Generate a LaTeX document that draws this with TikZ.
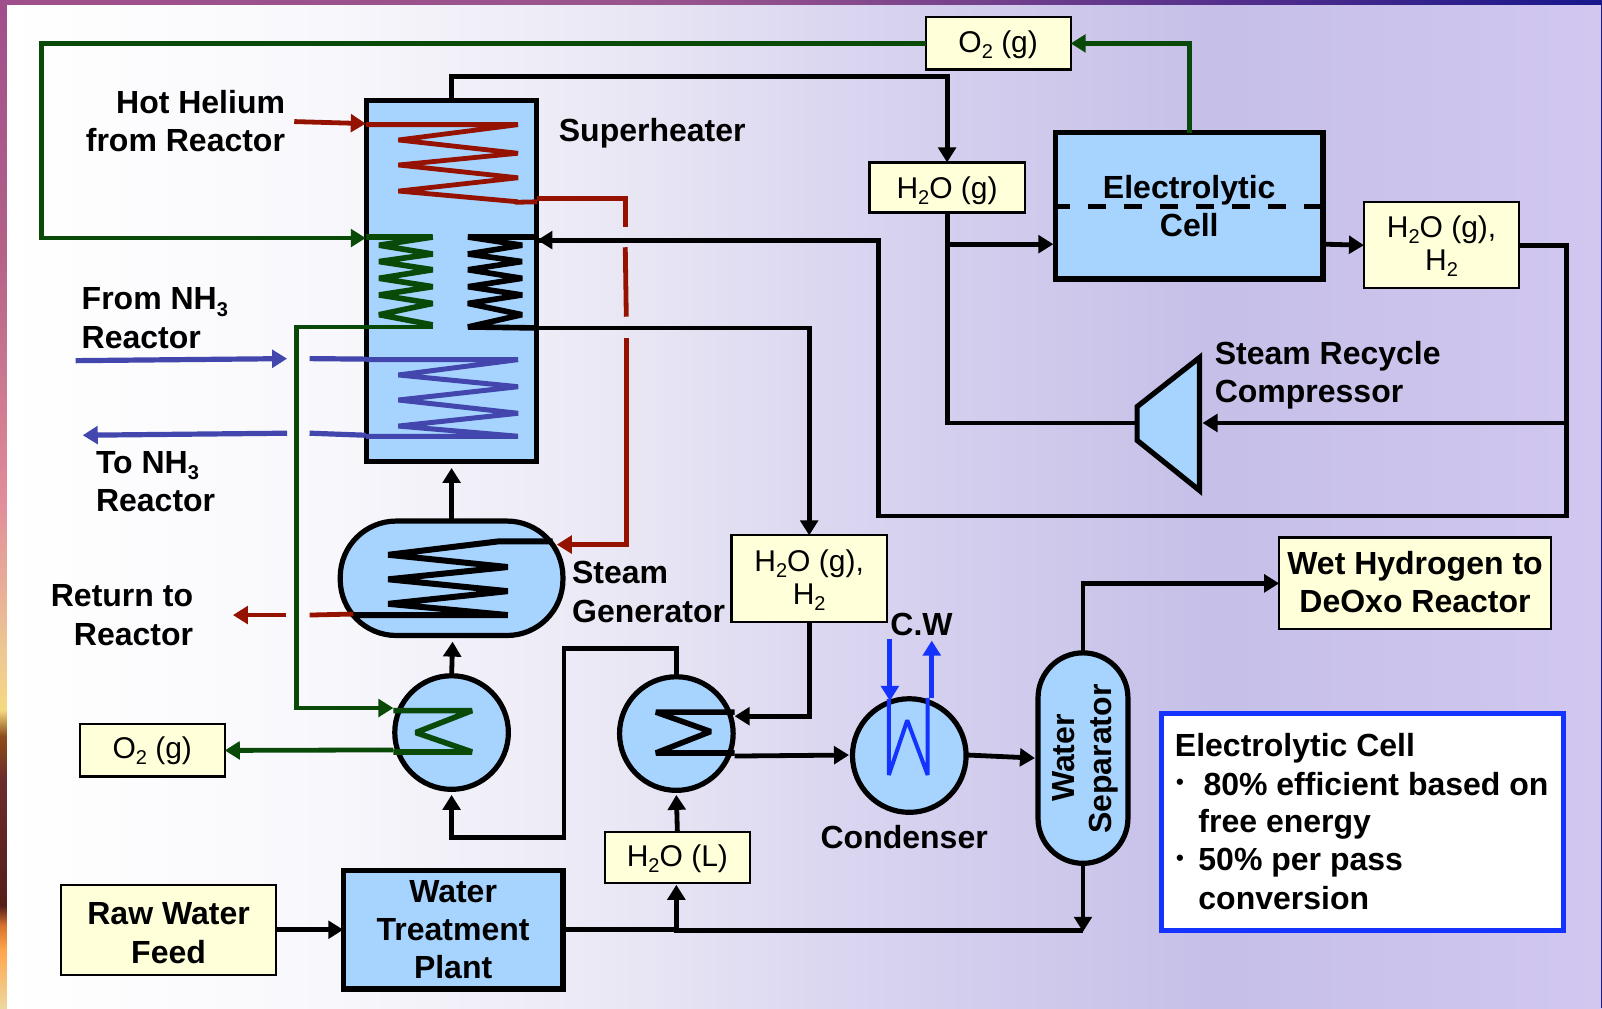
\documentclass[tikz,border=0pt]{standalone}
\usepackage{fontspec}
\setmainfont{Liberation Sans}
\usetikzlibrary{arrows.meta,calc}
\definecolor{unitblue}{HTML}{A6D4FF}
\definecolor{creamfill}{HTML}{FFFFDA}
\definecolor{dkgreen}{HTML}{0A4A08}
\definecolor{dkred}{HTML}{951200}
\definecolor{indigo}{HTML}{4347AD}
\definecolor{brightblue}{HTML}{1433FF}
\definecolor{navyedge}{HTML}{1F1A8C}
\pgfdeclarehorizontalshading{bgshade}{100bp}{rgb(0bp)=(1,1,1); rgb(25bp)=(1,1,1); rgb(34.5bp)=(.975,.975,.99); rgb(44bp)=(.92,.91,.96); rgb(52bp)=(.85,.83,.94); rgb(63bp)=(.775,.75,.91); rgb(75bp)=(.82,.78,.94); rgb(100bp)=(.82,.78,.94)}
\pgfdeclarehorizontalshading{topshade}{100bp}{rgb(0bp)=(.62,.31,.55); rgb(25bp)=(.62,.31,.55); rgb(45bp)=(.60,.33,.55); rgb(50bp)=(.55,.30,.55); rgb(65bp)=(.30,.17,.55); rgb(75bp)=(.09,.09,.55); rgb(100bp)=(.09,.09,.55)}
\pgfdeclareverticalshading{leftshade}{100bp}{rgb(0bp)=(.92,.85,.62); rgb(25bp)=(.92,.85,.62); rgb(27.9bp)=(1,.65,.30); rgb(29.1bp)=(.85,.45,.18); rgb(30.1bp)=(.33,.12,.10); rgb(36.3bp)=(.42,.17,.17); rgb(38.5bp)=(.55,.30,.10); rgb(39.8bp)=(.96,.85,.50); rgb(42.76bp)=(.93,.78,.58); rgb(50.2bp)=(.88,.55,.60); rgb(62.6bp)=(.70,.38,.53); rgb(75bp)=(.62,.31,.55); rgb(100bp)=(.62,.31,.55)}
\newcommand\sbs[1]{\smash{\raisebox{-3.2pt}{\fontsize{10}{10}\selectfont #1}}}
\newcommand\rbox[7]{%
  \pgfmathsetmacro\cxx{(#3+#5)/2}\pgfmathsetmacro\cyy{(#4+#6)/2}%
  \pgfmathsetmacro\wdd{(#5-#3)*0.5108}\pgfmathsetmacro\htt{(#6-#4)*0.5108}%
  \node[#1,minimum width=\wdd pt,minimum height=\htt pt] (#2) at (\cxx,\cyy) {#7};}
\tikzset{
  tipa/.style={-{Triangle[length=7.5pt,width=8.8pt]}},
  boxbase/.style={draw,align=center,inner sep=0pt,outer sep=0pt},
  cream/.style={boxbase,fill=creamfill,line width=1.1pt,font=\fontsize{15}{18}\selectfont},
  creambold/.style={boxbase,fill=creamfill,line width=1.1pt,font=\fontsize{16}{19.2}\bfseries\selectfont},
  unit/.style={boxbase,fill=unitblue,line width=2.6pt,font=\fontsize{16}{19.2}\bfseries\selectfont},
  hx/.style={circle,draw,fill=unitblue,line width=2.6pt,inner sep=0pt,outer sep=0pt,minimum size=56.8pt},
  lab/.style={inner sep=0pt,outer sep=0pt,font=\fontsize{16}{19.2}\bfseries\selectfont},
  blk/.style={black,line width=2.4pt,line join=miter},
  grn/.style={dkgreen,line width=2.4pt},
  rd/.style={dkred,line width=2.4pt},
  ind/.style={indigo,line width=2.6pt},
  bl/.style={brightblue,line width=2.4pt},
  coil/.style={line join=bevel,line width=2.8pt},
}
\begin{document}
\begin{tikzpicture}[x=0.5108pt,y=-0.5108pt]
\useasboundingbox (0,0) rectangle (1568,987);
\shade[shading=bgshade] (0,0) rectangle (1568,987);
\shade[shading=topshade] (0,0) rectangle (1568,4);
\shade[shading=leftshade] (0,0) rectangle (6.8,987);
\fill[navyedge] (1567,0) rectangle (1568,987);

% units
\rbox{unit}{sh}{359}{98}{525}{452}{}
\rbox{unit}{ecell}{1033}{130}{1295}{273}{Electrolytic\\[-0.2pt]Cell}
\rbox{unit}{plant}{336}{852}{551}{968}{Water\\Treatment\\Plant}
\rbox{unit,rounded corners=28pt}{sg}{333}{510}{551}{622}{}
\rbox{unit,rounded corners=22.5pt}{sep}{1016}{639}{1104}{845}{}
\node[hx] (hxa) at (442,717) {};
\node[hx] (hxb) at (662,718) {};
\node[hx] (cnd) at (890,739.5) {};
\draw[fill=unitblue,line width=2.6pt,line join=miter] (1174,350) -- (1174,480) -- (1113,431) -- (1113,398) -- cycle;

% boxes
\rbox{cream}{oxtop}{906}{17}{1048}{68}{\rule{0pt}{12.2pt}O\sbs{2} (g)}
\rbox{cream}{stm}{851}{159}{1003}{208}{\rule{0pt}{13.8pt}H\sbs{2}O (g)}
\rbox{cream}{wetbox}{1335}{198}{1487}{282}{H\sbs{2}O (g),\\[-1.5pt]H\sbs{2}\rule[-2.4pt]{0pt}{0pt}}
\rbox{cream}{mix}{716}{524}{868}{609}{H\sbs{2}O (g),\\[-1.5pt]H\sbs{2}\rule[-1.6pt]{0pt}{0pt}}
\rbox{cream}{oxl}{78}{709}{220}{760}{O\sbs{2} (g)}
\rbox{cream}{liq}{592}{814}{734}{864}{\rule{0pt}{12.2pt}H\sbs{2}O (L)}
\rbox{creambold}{raw}{60}{866}{270}{954}{\rule{0pt}{14.6pt}Raw Water\\Feed}
\rbox{creambold}{deoxo}{1252}{526}{1518}{616}{Wet Hydrogen to\\DeOxo Reactor\rule[-1.2pt]{0pt}{0pt}}
\rbox{boxbase,draw=brightblue,fill=white,line width=2.4pt}{info}{1137}{698}{1530}{911}{}

% coordinates
\coordinate (gin) at (358,233);
\coordinate (shin) at (526,235);
\coordinate (shout) at (526,321);
\coordinate (cellin) at (1031,239);
\coordinate (cellout) at (1296,239);
\coordinate (ja) at (927,239);
\coordinate (jb) at (1533,414);
\coordinate (cmpl) at (1113,414);
\coordinate (cmpr) at (1177,414);
\coordinate (shbot) at (442,458);
\coordinate (sgbot) at (443,628);
\coordinate (hxain) at (385,693);
\coordinate (hxaout) at (385,734);
\coordinate (hxabot) at (442,778);
\coordinate (hxbbot) at (662,778);
\coordinate (hxbin) at (719,701);
\coordinate (hxbout) at (719,740);
\coordinate (cndin) at (831,739);
\coordinate (cndout) at (947,739);
\coordinate (sepin) at (1013,742);
\coordinate (jc) at (662,910);
\coordinate (jd) at (1060,912);
\coordinate (liqbot) at (662,866);
\coordinate (gcoil) at (423.5,320);

% black connectors
\draw[blk,tipa] (sh.north) -- ++(0,-23) -| (stm.north);
\draw[blk] (stm.south) |- (cmpl);
\draw[blk,tipa] (ja) -- (cellin);
\draw[blk,tipa] (cellout) -- (wetbox.west);
\draw[blk] (wetbox.east) -- ++(46,0) |- (860,505) |- (shin);
\draw[blk,tipa] (860,235) -- (shin);
\draw[blk,tipa] (jb) -- (cmpr);
\draw[blk,tipa] (shout) -| (mix.north);
\draw[blk,tipa] (mix.south) |- (hxbin);
\draw[blk,tipa] (sg.north) -- (shbot);
\draw[blk,tipa] (hxa.north) -- (sgbot);
\draw[blk,tipa] (hxb.north) -- ++(0,-28) -| (552,820) -| (hxabot);
\draw[blk,tipa] (liq.north) -- (hxbbot);
\draw[blk,tipa] (raw.east) -- (plant.west);
\draw[blk] (plant.east) -- (jc);
\draw[blk,tipa] (sep.south) -- (jd);
\draw[blk,tipa] (jd) ++(0,-1) -| (liqbot);
\draw[blk,tipa] (hxbout) -- (cndin);
\draw[blk,tipa] (cndout) -- (sepin);
\draw[blk,tipa] (sep.north) |- (deoxo.west);

% green connectors
\draw[grn,tipa] (oxtop.west) -- ++(-865,0) |- (gin);
\draw[grn,tipa] (ecell.north) |- (oxtop.east);
\draw[grn,tipa] (gcoil) -- (290,320) |- (hxain);
\draw[grn,tipa] (hxaout) -- (oxl.east);

% red connectors
\coordinate (rstart) at (288,119);
\coordinate (rin) at (358,121);
\coordinate (rout) at (526,194);
\coordinate (rback) at (228,602);
\coordinate (rbackb) at (280,602);
\draw[rd,tipa] (rstart) -- (rin);
\draw[rd] (rout) -- (612,194) -- (612,222);
\draw[rd] (612,242) -- (613,310);
\coordinate (rsg) at (545,533);
\draw[rd,tipa] (613,331) |- (rsg);
\draw[rd,tipa] (rbackb) -- (rback);
\draw[rd] (346,601) -- (303,602);

% coils in superheater
\draw[rd,coil,line width=2.4pt] (358,122) -- (507,122) -- (390,137) -- (507,150) -- (390,161.5) -- (507,174) -- (390,187) -- (507,197.5);
\draw[rd] (504,198) -- (526,197.5);
\draw[grn,coil] (358,232) -- (423.5,232) -- (371,240) -- (423.5,248.6) -- (371,256) -- (423.5,264) -- (371,272.4) -- (423.5,280.6) -- (371,288.7) -- (423.5,297) -- (371,308) -- (423.5,318);
\draw[blk,coil] (526,232) -- (458,232) -- (511,240) -- (458,248.6) -- (511,256) -- (458,264) -- (511,272.4) -- (458,280.6) -- (511,288.7) -- (458,297) -- (511,308) -- (458,320) -- (shout);
\draw[ind,coil,line width=2.5pt] (358,352) -- (507,352) -- (390,367) -- (507,378.5) -- (390,391.5) -- (507,404.5) -- (390,417) -- (507,427) -- (358,427);
\coordinate (ia) at (74,353);
\coordinate (ib) at (281,351);
\coordinate (ic) at (281,424);
\coordinate (id) at (81,426);
\draw[ind,tipa] (ia) -- (ib);
\draw[ind,tipa] (ic) -- (id);
\draw[ind] (303,351) -- (358,351.5);
\draw[ind] (303,424) -- (358,426);

% coil in steam generator
\draw[blk,coil,line width=3pt] (541,530) -- (487,530) -- (380,543) -- (497,555) -- (380,567) -- (497,578.6) -- (380,591) -- (497,602) -- (346,602);
% exchanger coils
\draw[grn,coil] (385,695.5) -- (462,695.5) -- (407,717) -- (462,736) -- (385,736);
\draw[blk,coil] (719,697) -- (642,697) -- (695.5,716) -- (642,737) -- (719,737);
% condenser
\coordinate (cwa) at (871,625);
\coordinate (cwb) at (871,686);
\coordinate (cwc) at (912,683);
\coordinate (cwd) at (912,627);
\draw[bl,tipa] (cwa) -- (cwb);
\draw[bl,tipa] (cwc) -- (cwd);
\draw[bl,coil,line width=2pt] (870,684) -- (870,758.5) -- (888,705) -- (908,758.5) -- (908,683);

% dashed separator in the cell
\draw[black,line width=2.4pt,dash pattern=on 9pt off 9pt,dash phase=1pt] (1032,202) -- (1296,202);

% labels
\node[lab,anchor=east,align=right] (lhot) at (279,118.5) {Hot Helium\\from Reactor};
\node[lab,anchor=west] (lsuper) at (547,130) {Superheater};
\node[lab,anchor=west,align=left] (lfrom) at (80,311.5) {From NH\sbs{3}\\Reactor};
\node[lab,anchor=west,align=left] (lto) at (94,471.5) {To NH\sbs{3}\\Reactor};
\node[lab,anchor=east,align=right] (lret) at (189,602) {Return to\\Reactor};
\node[lab,anchor=west,align=left] (lsg) at (560,579.5) {Steam\\Generator};
\node[lab,anchor=west,align=left] (lcmp) at (1189,367.5) {Steam Recycle\\Compressor};
\node[lab] (lcnd) at (885,819) {Condenser};
\node[lab] (lcw) at (902,611) {C.W};
\node[lab,rotate=90] (lwater) at (1041,742) {Water};
\node[lab,rotate=90] (lsepr) at (1080,743) {Separator};
\node[lab,anchor=west] (ia1) at (1150,732) {Electrolytic Cell};
\node[lab,anchor=center] (ib1) at (1155,768) {\fontsize{11}{11}\selectfont\textbullet};
\node[lab,anchor=west] (ia2) at (1178,767) {80\% efficient based on};
\node[lab,anchor=west] (ia3) at (1173,807) {free energy};
\node[lab,anchor=center] (ib2) at (1155,842) {\fontsize{11}{11}\selectfont\textbullet};
\node[lab,anchor=west] (ia4) at (1173,844) {50\% per pass};
\node[lab,anchor=west] (ia5) at (1173,879) {conversion};
\end{tikzpicture}
\end{document}
